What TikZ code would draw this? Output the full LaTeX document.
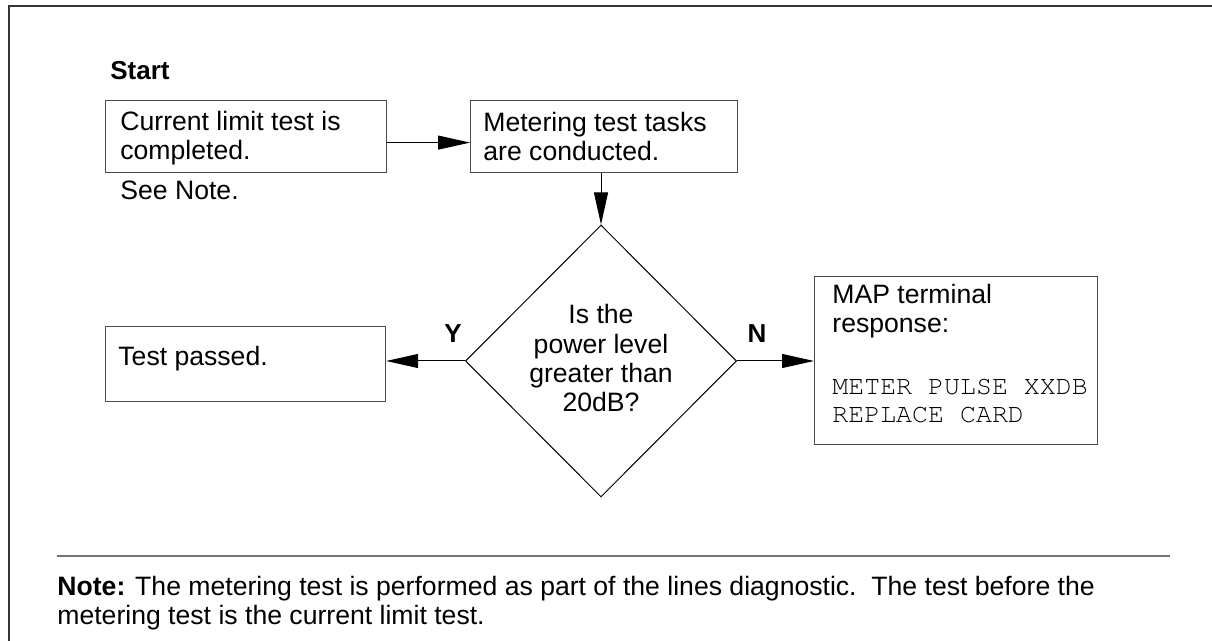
\documentclass[tikz,border=0pt]{standalone}
\usepackage[T1]{fontenc}
\usepackage{fontspec}
\setmainfont{Liberation Sans}
\setmonofont{Liberation Mono}
\usetikzlibrary{arrows.meta,shapes.geometric}
\newcommand{\courierfam}{\fontencoding{T1}\fontfamily{pcr}\selectfont}
\tikzset{
  box/.style={draw=black!70, line width=0.6pt, rectangle, inner sep=0pt, anchor=north west},
  txt/.style={anchor=base west, inner sep=0pt, align=left, font=\fontsize{13.3}{14.7}\selectfont},
  mono/.style={anchor=base west, inner sep=0pt, align=left, font=\fontsize{13.3}{14}\courierfam},
  lab/.style={anchor=base, inner sep=0pt, font=\fontsize{13}{15}\selectfont\bfseries},
  arr/.style={-{Triangle[length=16pt,width=7pt]}, line width=0.5pt},
  frame/.style={line width=1pt, draw=black!80},
  rule/.style={line width=0.75pt, draw=black!55}
}
\begin{document}
\begin{tikzpicture}[x=0.5pt,y=-0.5pt]
\useasboundingbox (0,0) rectangle (1212,641);
% frame
\coordinate (fa) at (9,641);
\coordinate (fb) at (9,6);
\coordinate (fc) at (1212,6);
\draw[frame] (fa) -- (fb) -- (fc);
% boxes
\node[box, minimum width=140.5pt, minimum height=36pt] (b1) at (105,100) {};
\node[box, minimum width=133.5pt, minimum height=36pt] (b2) at (470,100) {};
\node[box, minimum width=140pt, minimum height=37.5pt] (b3) at (105,326) {};
\node[box, minimum width=141.5pt, minimum height=84pt] (b4) at (814,276) {};
\node[diamond, draw, line width=0.5pt, minimum width=135.5pt, minimum height=136pt, inner sep=0pt] (d) at (601,361) {};
% texts (multi-line nodes: base = last line's baseline)
\node[lab, anchor=base west] (start) at (110,80) {Start};
\node[txt] (t1) at (120,160) {Current limit test is\\completed.};
\node[txt] (see) at (120,200) {See Note.};
\node[txt] (t2) at (483,161) {Metering test tasks\\are conducted.};
\node[txt] (t3) at (118,366) {Test passed.};
\node[txt] (t4) at (832,333) {MAP terminal\\response:};
\node[mono] (t4m) at (832,423) {METER PULSE XXDB\\REPLACE CARD};
\node[txt, anchor=base, align=center] (dq) at (601,412) {Is the\\power level\\greater than\\20dB?};
\node[lab] (Y) at (453,343) {Y};
\node[lab] (N) at (757,343) {N};
% connectors
\draw[arr] ([yshift=-3pt]b1.east) -- ([yshift=-3pt]b2.west);
\draw[arr] (b2.south -| d.north) -- (d.north);
\draw[arr] (d.west) -- (d.west -| b3.east);
\draw[arr] (d.east) -- (d.east -| b4.west);
% rule and note
\coordinate (ra) at (57,556);
\coordinate (rb) at (1170,556);
\draw[rule] (ra) -- (rb);
\node[txt] (note) at (57,625) {\textbf{Note:} The metering test is performed as part of the lines diagnostic.\ \ The test before the\\metering test is the current limit test.};
\end{tikzpicture}
\end{document}
